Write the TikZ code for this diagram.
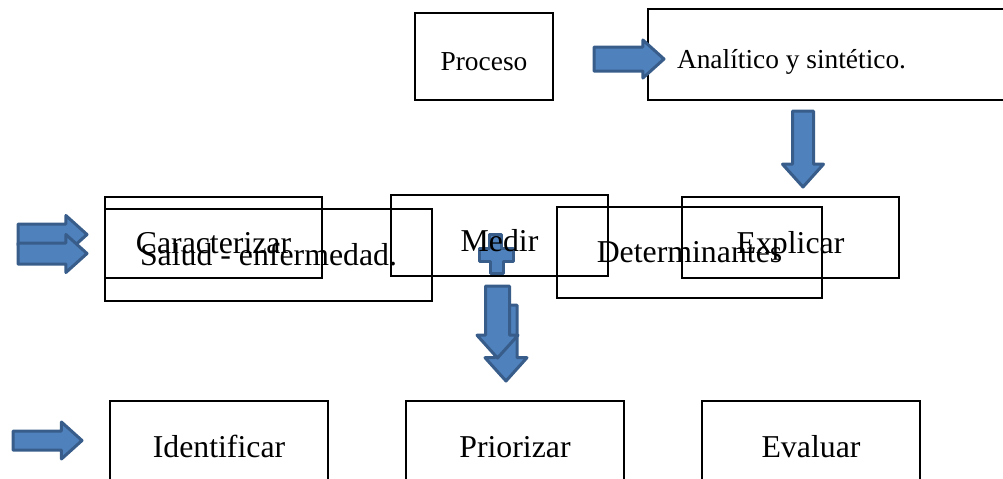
\documentclass[tikz,border=0pt]{standalone}
\usepackage{fontspec}
\setmainfont{Liberation Serif}
\usepackage{xcolor}
\usetikzlibrary{positioning,shapes.arrows}
\definecolor{arrowfill}{HTML}{4F81BD}
\definecolor{arrowedge}{HTML}{385D8A}

\begin{document}
\begin{tikzpicture}[x=1pt, y=1pt, on grid,
  box/.style={draw, line width=1.2pt, inner sep=0pt, font=\fontsize{15.9pt}{19pt}\selectfont},
  smallbox/.style={box, minimum width=108.5pt, minimum height=40.5pt, text height=15.9pt, text depth=0pt},
  topbox/.style={box, font=\fontsize{13.7pt}{16pt}\selectfont, text height=13.7pt, text depth=0pt},
  blockarrow/.style={single arrow, draw=arrowedge, fill=arrowfill, line width=1.5pt, line join=round, inner xsep=0pt, single arrow tip angle=84, anchor=tail}]
\useasboundingbox (0,0) rectangle (501.5,-239);
\draw[draw=arrowedge, fill=arrowfill, line width=1.5pt, line join=round]
  (244.5,-117) -- (250.5,-117) -- (250.5,-124) -- (256.5,-124) -- (256.5,-130.5) -- (251.5,-130.5)
  -- (251.5,-136.5) -- (245,-136.5) -- (245,-130.5) -- (239.5,-130.5) -- (239.5,-124) -- (244.5,-124) -- cycle;
\node[topbox, minimum width=69pt, minimum height=43.5pt] (proceso) at (242,-28.25) {Proceso};
\node[topbox, minimum height=45.5pt, text width=152pt, inner xsep=14.5pt, align=flush left] (analitico) [above right=1pt and 172.5pt of proceso] {Analítico y sintético.};
\node[smallbox] (medir) [below right=89.5pt and 7.75pt of proceso] {Medir};
\node[smallbox] (caract) [below left=1pt and 143pt of medir] {Caracterizar};
\node[box, minimum width=163.5pt, minimum height=46pt] (salud) [below right=8.75pt and 27.5pt of caract] {Salud - enfermedad.};
\node[box, minimum width=132.5pt, minimum height=45.5pt] (determ) [below right=8.5pt and 95pt of medir] {Determinantes};
\node[smallbox] (explicar) [below right=1pt and 145.5pt of medir] {Explicar};
\node[smallbox, minimum width=109pt] (identif) [below right=102pt and 2.75pt of caract] {Identificar};
\node[smallbox, minimum width=109pt] (prioriz) [right=148pt of identif] {Priorizar};
\node[smallbox, minimum width=109pt] (evaluar) [right=148pt of prioriz] {Evaluar};

\node[blockarrow, minimum height=35pt, inner ysep=5.25pt, single arrow head extend=3.5pt] (arr1) at (296.25,-29.5) {};
\node[blockarrow, rotate=-90, minimum height=38pt, inner ysep=4.5pt, single arrow head extend=5pt] (arr2) at (401.5,-54.75) {};
\node[blockarrow, minimum height=34.5pt, inner ysep=4.5pt, single arrow head extend=4.25pt] (arr3) at (8.25,-117.25) {};
\node[blockarrow, minimum height=34.5pt, inner ysep=4.5pt, single arrow head extend=4.25pt] (arr4) at (8.25,-126.75) {};
\node[blockarrow, minimum height=34.5pt, inner ysep=4pt, single arrow head extend=4.5pt] (arr5) at (5.75,-220.25) {};
\node[blockarrow, rotate=-90, minimum height=38pt, inner ysep=4.75pt, single arrow head extend=5pt] (arr6) at (253,-151.75) {};
\node[blockarrow, rotate=-90, minimum height=36pt, inner ysep=5.25pt, single arrow head extend=4.25pt] (arr7) at (248.75,-142.25) {};
\end{tikzpicture}
\end{document}
